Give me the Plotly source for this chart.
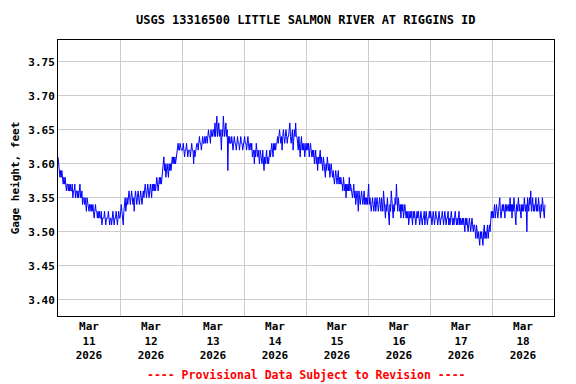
import datetime as dt
import plotly.graph_objects as go

# Gage height, hundredths of a foot above 3.00 ft, 15-minute readings per day
mar11 = [61,60,59,58,59,58,59,58,57,58, 57,58,57,56,57,57,56,57,56,57,
         56,56,57,55,56,56,57,55,56,56, 55,56,55,56,57,55,55,56,54,55,
         55,54,55,54,53,55,54,54,53,54, 54,53,54,53,54,53,52,53,54,53,
         53,52,53,52,53,52,52,53,51,52, 52,52,53,52,51,52,52,52,53,52,
         51,52,52,51,52,53,52,51,52,52, 53,52,51,52,53,52]
mar12 = [52,53,54,53,52,51,53,54,55,53,54,55,54, 55,56,55,54,55,56,55,54,55,53,55,56,
         55,54,55,56,55,54,55,56,55,54,55, 56,55,56,57,56,55,56,57,56,55,
         56,57,56,55,57,56,57,56,57,56, 57,58,57,56,57,58,57,58,57,58,59,
         60,61,59,60,58,59, 60,59,58,60,59,60,59, 60,61,60,61,60,61,60,61,61,
         62,63,62,62,63,62,62]
mar13 = [62,62,63,62,61,62,62,63,62,61,62,62, 62,61,62,63,62,62,60,62,61,62,62,63,
         63,62,63,64,63,63,62,63,64,63,63,64,63,64, 64,63,64,65,64,64,63,65,64,64,65,
         65,64,66,64,65,67,64,65,66,64, 65,64,62,65,64,67,65,64,65,66,
         64,65,59,64,63,64,63, 63,64,63,62,63,64,63,63,62,63, 64,63,63,62,63,64,63,63,62,63]
mar14 = [63,64,63,63,62,63,64,63,62,63,63, 62,63,61,62,62,60,62,61,63,62,61,62,61,60,62,61,
         61,60,62,61,59,61,60,61,62,60,61,60,61, 62,61,62,63,62,61,63,62,63,62,63,
         63,64,63,64,65,64,63,64,62,64,65,64,63,64,65,64,63,64,
         64,65,66,64,63,64,65,62,64,65,64,66,64, 64,63,62,64,63,61,63,64,62,63,62,63,61,62]
mar15 = [63,62,63,62,63,61,62,63,62,61,62, 61,62,60,61,62,60,61,59,61,60,61,62,60,61,
         60,59,61,60,59,58,60,59,61,60,59,60,58,59,60,59, 58,59,58,57,58,59,58,57,58,59,57,58,57,58,57,
         57,56,58,57,56,57,55,57,56,57,56,58,56,57,56, 56,55,56,57,55,56,54,55,56,55,53,56,55,54,55,56,
         55,54,55,56,54,55,54,55,54]
mar16 = [55,57,54,55,54,53,54,55,54,53,54,55,53,54,55,54,53,54,55,
         54,53,55,54,53,56,54,53,52,54,53,55,54,53,51,54,53,56,54,53,52,54,
         53,55,54,57,54,53,55,54,53,54,52,54,53,54,52,53,54,53,
         52,53,52,53,51,52,53,52,53,52,51,53,52,53,52,51,52,53,52,
         53,52,51,52,53,52,51,52,52,53,51,52,53,52,51,52,52,53]
mar17 = [52,53,52,51,52,53,52,51,52,53,52,52,51,52,53,52,51,52,52,53,52,
         51,52,53,52,51,52,52,53,51,52,51,52,53,52,51,52,51,52,53,52,
         51,52,51,52,53,51,52,51,52,52,51,52,51,50,52,51,52,51,50,51,
         52,51,50,51,52,51,50,51,51,50,49,51,50,49,
         50,49,48,50,49,50,49,48,50,51,49,50,49,50,51,49,50,51,50, 52,53]
mar18 = [52,53,52,53,54,52,53,54,53,52,53,54,55,53,52,53,54,53,54,53,52,54,53,54,53,
         53,54,53,55,53,54,52,54,53,55,54,53,51,54,53,54,55,53,54,53,52,
         54,53,54,53,55,54,53,54,50,55,54,53,55,54,56,53,54,55,53,54,53,
         54,55,53,54,53,55,54,53,52,54,53,55,54,53,52,54]

days = ["2026-03-11", "2026-03-12", "2026-03-13", "2026-03-14",
        "2026-03-15", "2026-03-16", "2026-03-17", "2026-03-18"]
tick_labels = ["Mar<br>11<br>2026", "Mar<br>12<br>2026", "Mar<br>13<br>2026", "Mar<br>14<br>2026",
               "Mar<br>15<br>2026", "Mar<br>16<br>2026", "Mar<br>17<br>2026", "Mar<br>18<br>2026"]
y_ticks = [3.40, 3.45, 3.50, 3.55, 3.60, 3.65, 3.70, 3.75]

series = [mar11, mar12, mar13, mar14, mar15, mar16, mar17, mar18]
xs, ys = [], []
for d, vals in zip(days, series):
    start = dt.datetime.fromisoformat(d)
    for i, v in enumerate(vals):
        xs.append(start + dt.timedelta(minutes=15 * i))
        ys.append(3.0 + v / 100.0)

FONT = "DejaVu Sans Mono"
fig = go.Figure(go.Scatter(x=xs, y=ys, mode="lines",
                           line=dict(color="#0000ff", width=1), hoverinfo="skip"))

noon = [dt.datetime.fromisoformat(d) + dt.timedelta(hours=12) for d in days]
midnights = [dt.datetime.fromisoformat(d) for d in days] + [dt.datetime(2026, 3, 19)]

fig.update_layout(
    width=568, height=376,
    margin=dict(l=50, r=22, t=32, b=68, autoexpand=False),
    paper_bgcolor="white", plot_bgcolor="white",
    showlegend=False,
    font=dict(family=FONT, size=11, color="black", weight="bold"),
    xaxis=dict(
        type="date", automargin=False,
        range=[dt.datetime(2026, 3, 11), dt.datetime(2026, 3, 19)],
        tickmode="array", tickvals=noon, ticktext=tick_labels,
        showgrid=False, ticks="", showline=True, mirror=True,
        linecolor="black", linewidth=1, zeroline=False,
        tickfont=dict(family=FONT, size=11, weight="bold"),
        minor=dict(tickmode="array", tickvals=midnights, showgrid=True,
                   gridcolor="#cccccc", gridwidth=1, ticks=""),
    ),
    yaxis=dict(
        automargin=False,
        range=[3.376, 3.782],
        tickmode="array", tickvals=y_ticks, ticktext=[f"{v:.2f}" for v in y_ticks],
        showgrid=True, gridcolor="#cccccc", gridwidth=1, ticks="",
        showline=True, mirror=True, linecolor="black", linewidth=1, zeroline=False,
        tickfont=dict(family=FONT, size=11, weight="bold"),
        title=dict(text="Gage height, feet", standoff=6,
                   font=dict(family=FONT, size=11, weight="bold")),
    ),
    annotations=[
        dict(text="USGS 13316500 LITTLE SALMON RIVER AT RIGGINS ID",
             xref="paper", yref="paper", x=0.5, y=1, yshift=20,
             yanchor="middle", showarrow=False,
             font=dict(family=FONT, size=12, weight="bold", color="black")),
        dict(text="---- Provisional Data Subject to Revision ----",
             xref="paper", yref="paper", x=0.5, y=0, yshift=-59,
             yanchor="middle", showarrow=False,
             font=dict(family=FONT, size=11.5, weight="bold", color="red")),
    ],
)

fig.write_html("out.html")
